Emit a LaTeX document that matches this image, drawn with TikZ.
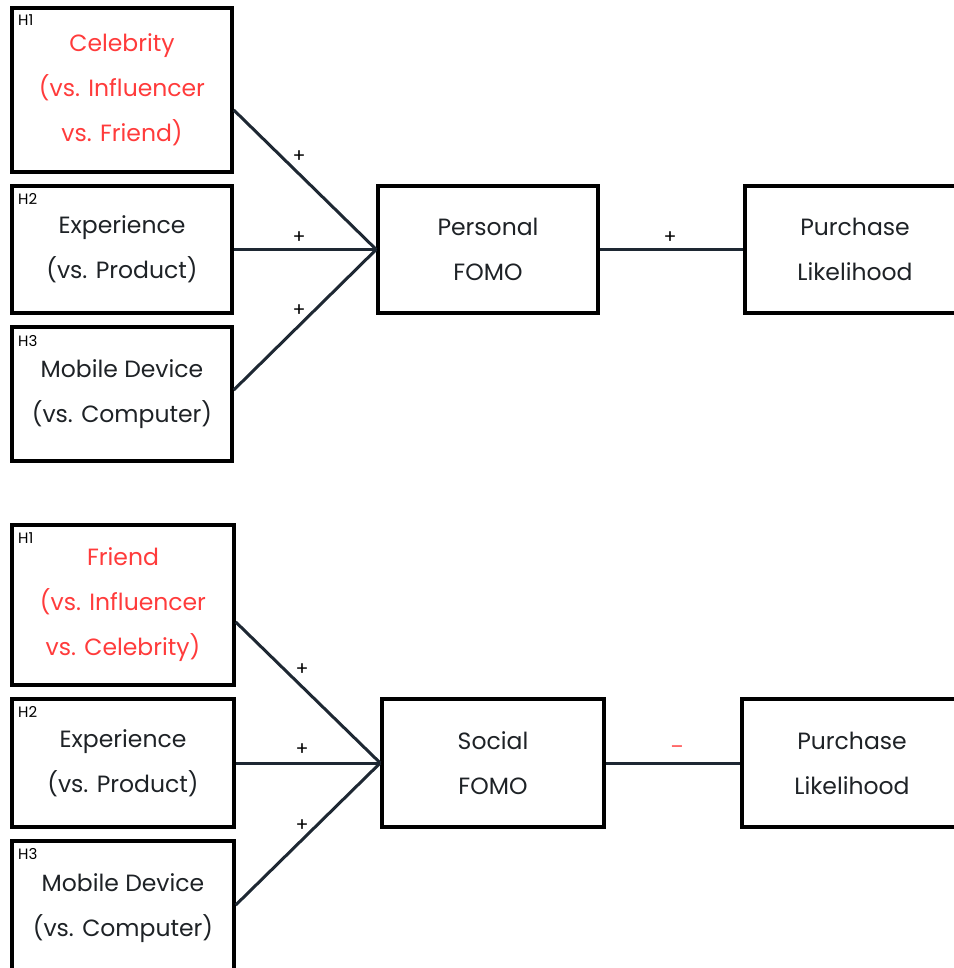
\documentclass[tikz,border=0pt]{standalone}
\usepackage{fontspec}
\setmainfont{Poppins}
\definecolor{hyred}{HTML}{FF3B3B}
\definecolor{linkcol}{HTML}{1E2833}
\definecolor{txtcol}{HTML}{1E2226}
\tikzset{
  var/.style={draw=black, line width=3.5pt, minimum width=220pt, minimum height=127pt,
    align=center, inner sep=0pt, text=txtcol, font=\fontsize{23.5}{45}\selectfont},
  hyp/.style={anchor=north west, inner sep=0pt, font=\fontsize{15}{15}\selectfont},
  link/.style={draw=linkcol, line width=3pt},
  sign/.style={inner sep=0pt, font=\fontsize{19}{19}\selectfont}
}
\begin{document}
\begin{tikzpicture}[x=1pt,y=-1pt]
\useasboundingbox (0,0) rectangle (953,968);

% personal FOMO
\node[var, minimum height=164pt, text=hyred] (pa) at (122,90) {Celebrity\\(vs. Influencer\\vs. Friend)};
\node[var] (pb) at (122,249.5) {Experience\\(vs. Product)};
\node[var, minimum height=134pt] (pc) at (122,394) {Mobile Device\\(vs. Computer)};
\node[var] (pfomo) at (488,249.5) {Personal\\FOMO};
\node[var] (ppl) at (855,249.5) {Purchase\\Likelihood};
\node[hyp] (pah) at (18,14) {H1};
\node[hyp] (pbh) at (18,193) {H2};
\node[hyp] (pch) at (18,335) {H3};
\draw[link] ([yshift=-20pt]pa.east) -- (pfomo.west);
\draw[link] (pb.east) -- (pfomo.west);
\draw[link] ([yshift=4pt]pc.east) -- (pfomo.west);
\draw[link] (pfomo.east) -- (ppl.west);
\node[sign] (ps1) at (299,157) {+};
\node[sign] (ps2) at (299,238) {+};
\node[sign] (ps3) at (299,311) {+};
\node[sign] (ps4) at (670,238) {+};

% social FOMO
\node[var, minimum width=222pt, minimum height=160pt, text=hyred] (sa) at (123,605) {Friend\\(vs. Influencer\\vs. Celebrity)};
\node[var, minimum width=222pt, minimum height=128pt] (sb) at (123,763) {Experience\\(vs. Product)};
\node[var, minimum width=222pt, minimum height=134pt] (sc) at (123,908) {Mobile Device\\(vs. Computer)};
\node[var, minimum width=222pt, minimum height=128pt] (sfomo) at (493,763) {Social\\FOMO};
\node[var, minimum height=128pt] (spl) at (852,763) {Purchase\\Likelihood};
\node[hyp] (sah) at (18,532) {H1};
\node[hyp] (sbh) at (18,706) {H2};
\node[hyp] (sch) at (18,848) {H3};
\draw[link] ([yshift=-17pt]sa.east) -- (sfomo.west);
\draw[link] (sb.east) -- (sfomo.west);
\draw[link] ([yshift=3pt]sc.east) -- (sfomo.west);
\draw[link] (sfomo.east) -- (spl.west);
\node[sign] (ss1) at (302,670) {+};
\node[sign] (ss2) at (302,750) {+};
\node[sign] (ss3) at (302,826) {+};
\node[sign, text=hyred] (ss4) at (677,750) {\textendash};
\end{tikzpicture}
\end{document}
